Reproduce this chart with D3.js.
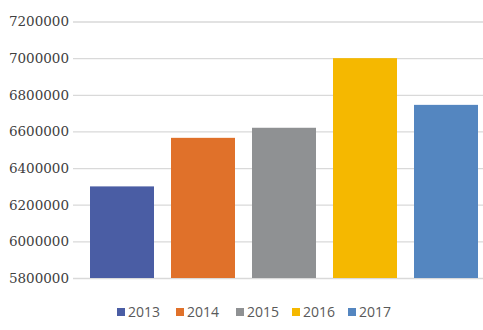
<!DOCTYPE html>
<html><head><meta charset="utf-8">
<script src="https://cdn.jsdelivr.net/npm/d3@7"></script>
<style>body{margin:0;background:#fff}svg{display:block}
.ytick text{font-family:"DejaVu Serif","Liberation Serif",serif !important;}
</style>
</head><body>
<svg id="c" width="483" height="330"></svg>
<script>
const categories = ["2013","2014","2015","2016","2017"];
const values = [6300000, 6565000, 6620000, 7000000, 6745000];
const colors = ["#4a5da4","#e0712a","#8f9193","#f5b800","#5486c0"];
const yTicks = [5800000,6000000,6200000,6400000,6600000,6800000,7000000,7200000];

const svg = d3.select("#c");
const y = d3.scaleLinear().domain([5800000,7200000]).range([278,21.5]);
const x = d3.scaleBand().domain(categories).range([81.5,486.5]).paddingInner(0.21).paddingOuter(0.105);

const yAxis = d3.axisLeft(y).tickValues(yTicks).tickFormat(d3.format("d")).tickSize(-(483-73)).tickPadding(4);
const ga = svg.append("g").attr("class","ytick").attr("transform","translate(73,0)").call(yAxis)
  .attr("font-family",null).attr("font-size",null);
ga.select(".domain").remove();
ga.selectAll(".tick line").attr("stroke","#d9d9d9").attr("stroke-width",1.3);
ga.selectAll(".tick text").attr("fill","#404040")
  .style("font-family","'DejaVu Serif','Liberation Serif',serif").style("font-size","13.5px").attr("x",-4);

svg.append("g").selectAll("rect").data(values).join("rect")
  .attr("x",(d,i)=>x(categories[i]))
  .attr("width",x.bandwidth())
  .attr("y",d=>y(d))
  .attr("height",d=>y(5800000)-y(d))
  .attr("fill",(d,i)=>colors[i]);

const legX = [117,176,236,292,348];
const leg = svg.append("g");
categories.forEach((c,i)=>{
  leg.append("rect").attr("x",legX[i]).attr("y",308).attr("width",8).attr("height",8).attr("fill",colors[i]);
  leg.append("text").attr("x",legX[i]+11).attr("y",317).text(c)
    .style("font-family","'Open Sans',sans-serif").style("font-size","14px").attr("fill","#595959");
});
</script>
</body></html>
